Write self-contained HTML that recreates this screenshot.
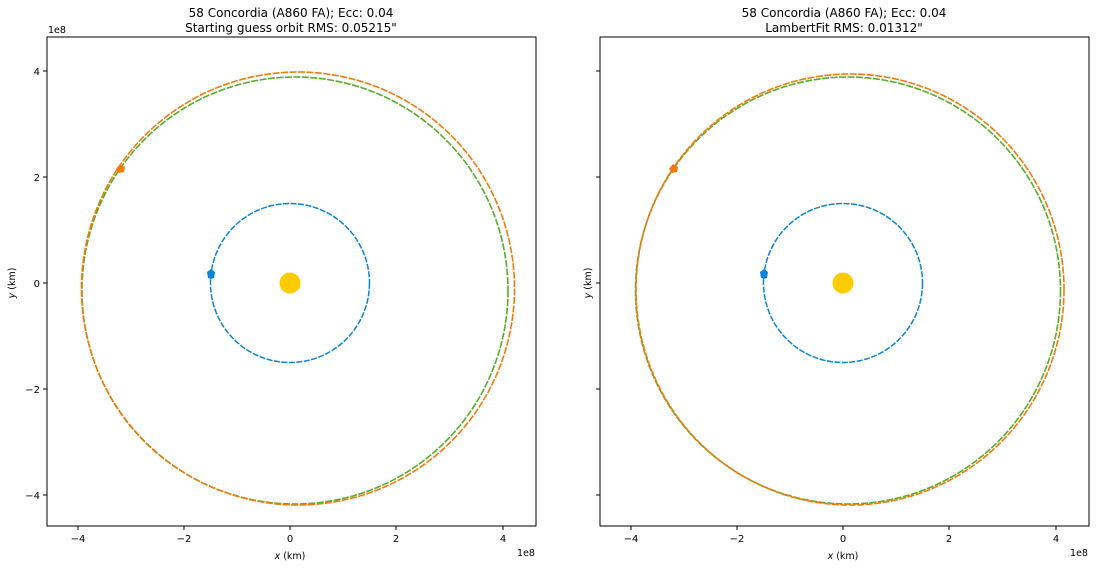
<!DOCTYPE html>
<html><head><style>
body{margin:0;background:#fff;width:1096px;height:568px;overflow:hidden}
text{font-family:"DejaVu Sans","Liberation Sans",sans-serif;fill:#000}
</style></head><body>
<svg width="1096" height="568" xmlns="http://www.w3.org/2000/svg">
<defs>
<g id="plot">
  <circle cx="290" cy="283" r="79.5" fill="none" stroke="#0a84d6" stroke-width="1.5" stroke-dasharray="6,1.5"/>
  <circle cx="290" cy="283" r="10.5" fill="#ffcc00"/>
  <g font-size="10" text-anchor="middle">
    <line x1="78" y1="526" x2="78" y2="530" stroke="#000"/><text x="78" y="542">−4</text>
    <line x1="184" y1="526" x2="184" y2="530" stroke="#000"/><text x="184" y="542">−2</text>
    <line x1="290" y1="526" x2="290" y2="530" stroke="#000"/><text x="290" y="542">0</text>
    <line x1="396" y1="526" x2="396" y2="530" stroke="#000"/><text x="396" y="542">2</text>
    <line x1="503" y1="526" x2="503" y2="530" stroke="#000"/><text x="503" y="542">4</text>
    <text x="290" y="559" font-size="9.5"><tspan font-style="italic">x</tspan> (km)</text>
    <text x="526" y="556" font-size="9.5">1e8</text>
  </g>
  <g stroke="#000">
    <line x1="43" y1="71" x2="47" y2="71"/><line x1="43" y1="177" x2="47" y2="177"/>
    <line x1="43" y1="283" x2="47" y2="283"/><line x1="43" y1="389" x2="47" y2="389"/>
    <line x1="43" y1="495" x2="47" y2="495"/>
  </g>
</g>
</defs>

<!-- Left -->
<use href="#plot"/>
<ellipse cx="295" cy="290.5" rx="213" ry="213.5" fill="none" stroke="#58ac2a" stroke-width="1.6" stroke-dasharray="7,1.5"/>
<ellipse cx="298" cy="288.5" rx="216.5" ry="216.5" fill="none" stroke="#f57a0a" stroke-width="1.6" stroke-dasharray="7,1.5"/>
<path d="M120,164 l5,3 l-1,5 l-5,1 l-3,-4 z" fill="#f57a0a"/>
<path d="M211,269 l4,3 l-1,6 l-3,1 l-3,-1 l-1,-6 z" fill="#0a84d6"/>
<rect x="47" y="37" width="489" height="489" fill="none" stroke="#000" stroke-width="1"/>
<g font-size="10" text-anchor="end">
  <text x="40" y="75">4</text><text x="40" y="181">2</text><text x="40" y="287">0</text>
  <text x="40" y="393">−2</text><text x="40" y="499">−4</text>
</g>
<text x="48" y="33" font-size="9.5">1e8</text>
<text transform="translate(15,283) rotate(-90)" font-size="9.5" text-anchor="middle"><tspan font-style="italic">y</tspan> (km)</text>
<text x="291" y="17" font-size="12" text-anchor="middle">58 Concordia (A860 FA); Ecc: 0.04</text>
<text x="291" y="32" font-size="12" text-anchor="middle">Starting guess orbit RMS: 0.05215"</text>

<!-- Right -->
<g transform="translate(553,0)">
<use href="#plot"/>
<ellipse cx="295" cy="290.5" rx="212.5" ry="213.5" fill="none" stroke="#58ac2a" stroke-width="1.6" stroke-dasharray="7,1.5"/>
<ellipse cx="297" cy="289.5" rx="214" ry="215.5" fill="none" stroke="#f57a0a" stroke-width="1.6" stroke-dasharray="7,1.5"/>
<path d="M120,164 l5,3 l-1,5 l-5,1 l-3,-4 z" fill="#f57a0a"/>
<path d="M211,269 l4,3 l-1,6 l-3,1 l-3,-1 l-1,-6 z" fill="#0a84d6"/>
<rect x="47" y="37" width="489" height="489" fill="none" stroke="#000" stroke-width="1"/>
<text transform="translate(38,283) rotate(-90)" font-size="9.5" text-anchor="middle"><tspan font-style="italic">y</tspan> (km)</text>
<text x="291" y="17" font-size="12" text-anchor="middle">58 Concordia (A860 FA); Ecc: 0.04</text>
<text x="291" y="32" font-size="12" text-anchor="middle">LambertFit RMS: 0.01312"</text>
</g>
</svg>
</body></html>
